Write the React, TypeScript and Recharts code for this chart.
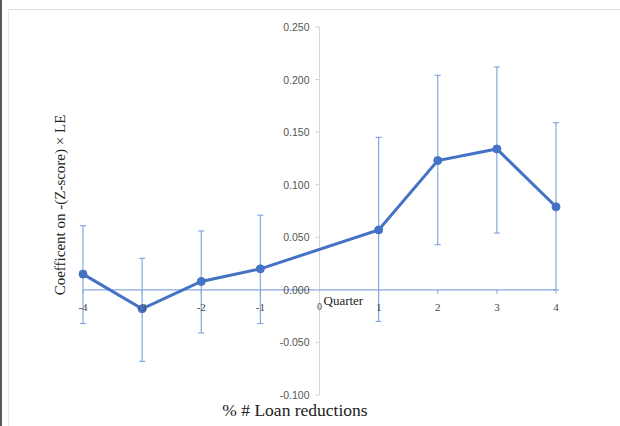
import React from 'react';
import { LineChart, Line, XAxis, YAxis, ErrorBar, ReferenceLine } from 'recharts';

const quarters = [-4, -3, -2, -1, 1, 2, 3, 4];
const coefficients = [0.015, -0.018, 0.008, 0.020, 0.057, 0.123, 0.134, 0.079];
const upperBounds = [0.061, 0.030, 0.056, 0.071, 0.145, 0.204, 0.212, 0.159];
const lowerBounds = [-0.032, -0.068, -0.041, -0.032, -0.030, 0.043, 0.054, 0.000];
const xTicks = [-4, -3, -2, -1, 0, 1, 2, 3, 4];
const yTicks = [-0.1, -0.05, 0, 0.05, 0.1, 0.15, 0.2, 0.25];

const data = quarters.map((q, i) => ({
  q,
  coef: coefficients[i],
  err: [coefficients[i] - lowerBounds[i], upperBounds[i] - coefficients[i]],
}));

const W = 620;
const H = 426;
const X_AXIS_H = 30;
const M = { top: 27, right: 64, bottom: 31 - X_AXIS_H, left: 23 };
const Y_AXIS_W = 60;
const PLOT_LEFT = M.left + Y_AXIS_W;
const PLOT_W = W - PLOT_LEFT - M.right;
const PLOT_H = H - M.top - M.bottom - X_AXIS_H;
const Y_MIN = -0.1;
const Y_MAX = 0.25;
const X_MIN = -4;
const X_MAX = 4;
const ZERO_X = PLOT_LEFT + ((0 - X_MIN) / (X_MAX - X_MIN)) * PLOT_W;
const ZERO_Y = M.top + ((Y_MAX - 0) / (Y_MAX - Y_MIN)) * PLOT_H;

const LINE_BLUE = '#4472c4';
const BAR_BLUE = '#86a8e0';

const YTick = (props: any) => {
  const { y, payload } = props;
  return (
    <g>
      <line x1={ZERO_X - 4} x2={ZERO_X} y1={y} y2={y} stroke="#d0d0d0" strokeWidth={1} />
      <text
        x={ZERO_X - 10}
        y={y}
        dy={4}
        textAnchor="end"
        fontFamily="'Liberation Sans', Arial, sans-serif"
        fontSize={10.5}
        fill="#555"
      >
        {payload.value.toFixed(3)}
      </text>
    </g>
  );
};

const XTick = (props: any) => {
  const { x, payload } = props;
  const v = payload.value;
  if (v === 0) {
    return (
      <g>
        <text x={x} y={ZERO_Y + 20} textAnchor="middle" fontFamily="'Liberation Serif', serif" fontSize={10} fill="#444">
          0
        </text>
        <text x={x + 4} y={ZERO_Y + 15} textAnchor="start" fontFamily="'Liberation Serif', serif" fontSize={13} fill="#222">
          Quarter
        </text>
      </g>
    );
  }
  return (
    <g>
      <line x1={x} x2={x} y1={ZERO_Y} y2={ZERO_Y + 4} stroke={BAR_BLUE} strokeWidth={1} />
      <text x={x} y={ZERO_Y + 21} textAnchor="middle" fontFamily="'Liberation Serif', serif" fontSize={11} fill="#444">
        {String(v)}
      </text>
    </g>
  );
};

export default function App() {
  return (
    <div style={{ position: 'absolute', left: 0, top: 0, width: W, height: H, background: '#fff', overflow: 'hidden' }}>
      <div style={{ position: 'absolute', left: 0, top: 0, width: 2, height: H, background: '#5a5a5a' }} />
      <div
        style={{
          position: 'absolute',
          left: 8,
          top: 9,
          width: W,
          height: H,
          borderLeft: '1px solid #e6e6e6',
          borderTop: '1px solid #e0e0e0',
        }}
      />
      <div style={{ position: 'absolute', left: 0, top: 0 }}>
        <LineChart width={W} height={H} data={data} margin={M}>
          <XAxis
            dataKey="q"
            type="number"
            domain={[X_MIN, X_MAX]}
            ticks={xTicks}
            height={X_AXIS_H}
            axisLine={false}
            tickLine={false}
            tick={<XTick />}
            interval={0}
          />
          <YAxis
            type="number"
            domain={[Y_MIN, Y_MAX]}
            ticks={yTicks}
            width={Y_AXIS_W}
            axisLine={false}
            tickLine={false}
            tick={<YTick />}
            interval={0}
          />
          <ReferenceLine x={0} stroke="#d6d6d6" strokeWidth={1} />
          <ReferenceLine y={0} stroke={BAR_BLUE} strokeWidth={1.2} />
          <Line
            dataKey="coef"
            stroke={LINE_BLUE}
            strokeWidth={3}
            dot={{ r: 4, fill: LINE_BLUE, stroke: LINE_BLUE, strokeWidth: 1 }}
            isAnimationActive={false}
          >
            <ErrorBar dataKey="err" direction="y" width={3} stroke={BAR_BLUE} strokeWidth={1.2} />
          </Line>
        </LineChart>
      </div>
      <div
        style={{
          position: 'absolute',
          left: 60,
          top: 205,
          transform: 'translate(-50%, -50%) rotate(-90deg)',
          whiteSpace: 'nowrap',
          fontFamily: "'Liberation Serif', serif",
          fontSize: 15,
          color: '#222',
        }}
      >
        Coefficent on -(Z-score) × LE
      </div>
      <div
        style={{
          position: 'absolute',
          left: 295,
          top: 400,
          transform: 'translateX(-50%)',
          whiteSpace: 'nowrap',
          fontFamily: "'Liberation Serif', serif",
          fontSize: 17.5,
          color: '#222',
        }}
      >
        % # Loan reductions
      </div>
    </div>
  );
}
